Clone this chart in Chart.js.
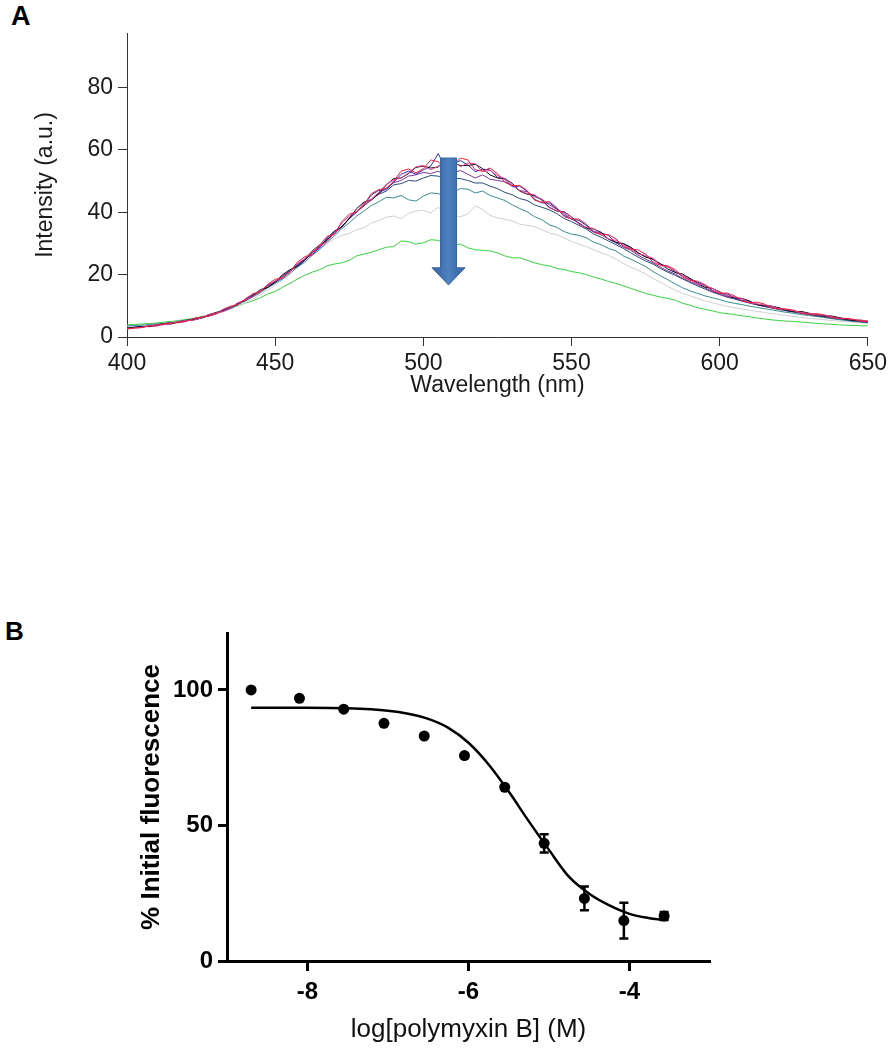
<!DOCTYPE html>
<html><head><meta charset="utf-8">
<script src="https://cdn.jsdelivr.net/npm/chart.js@4"></script>
<style>
body{margin:0;background:#fff;width:891px;height:1050px;overflow:hidden;position:relative;font-family:'Liberation Sans',Arial,sans-serif}
canvas{position:absolute;left:0}
#cA{top:0}
#cB{top:600px}
.lab{position:absolute;font-weight:bold;line-height:1;color:#000}
</style></head><body>
<div class="lab" style="left:11px;top:3px;font-size:27px">A</div>
<div class="lab" style="left:5px;top:618px;font-size:26px">B</div>
<canvas id="cA" width="891" height="420"></canvas>
<canvas id="cB" width="891" height="450"></canvas>
<script>
// ---------- Panel A data ----------
const wavelengths = [400,402.5,405,407.5,410,412.5,415,417.5,420,422.5,
  425,427.5,430,432.5,435,437.5,440,442.5,445,447.5,
  450,452.5,455,457.5,460,462.5,465,467.5,470,472.5,
  475,477.5,480,482.5,485,487.5,490,492.5,495,497.5,
  500,502.5,505,507.5,510,512.5,515,517.5,520,522.5,
  525,527.5,530,532.5,535,537.5,540,542.5,545,547.5,
  550,552.5,555,557.5,560,562.5,565,567.5,570,572.5,
  575,577.5,580,582.5,585,587.5,590,592.5,595,597.5,
  600,602.5,605,607.5,610,612.5,615,617.5,620,622.5,
  625,627.5,630,632.5,635,637.5,640,642.5,645,647.5,650];
const aXTicks = [400,450,500,550,600,650];
const aYTicks = [0,20,40,60,80];
const redSpec = [2.5,2.9,3.0,3.6,3.5,4.3,4.5,4.6,5.0,5.9,
  6.4,6.7,7.4,8.9,9.9,10.4,12.3,13.9,14.5,16.9,
  18.5,19.0,21.0,24.0,25.8,26.4,29.4,32.3,33.0,37.0,
  39.4,40.0,42.5,46.0,47.3,47.6,50.0,53.2,53.9,52.6,
  54.0,56.8,56.2,54.0,55.0,57.4,56.8,53.6,53.2,54.2,
  52.4,49.6,48.5,48.6,47.0,43.9,43.2,43.4,41.5,38.6,
  37.9,37.8,36.2,33.6,33.0,32.8,31.5,29.0,28.2,27.9,
  26.6,24.0,23.0,22.8,21.6,19.2,18.2,17.9,16.8,14.8,
  14.0,14.1,13.2,11.6,11.0,11.2,10.6,9.3,9.0,9.0,
  8.6,7.6,7.3,7.5,7.2,6.3,6.0,6.0,5.7,5.1,4.9];
const magentaSpec = [2.7,2.8,3.1,3.6,3.9,3.9,4.4,5.0,5.3,5.4,
  6.1,7.2,7.7,8.2,9.4,11.0,11.9,13.0,14.9,16.6,
  18.0,19.1,20.9,23.6,25.1,27.5,29.2,30.6,33.2,36.6,
  38.8,40.2,43.0,44.2,46.4,49.0,50.4,51.0,52.6,54.6,
  55.0,53.6,54.8,56.0,56.6,54.6,55.8,55.6,53.0,53.4,
  51.8,50.8,49.0,47.0,46.0,45.6,43.8,41.4,40.6,40.0,
  38.4,36.2,35.2,34.8,33.0,31.4,31.0,29.4,28.2,26.6,
  26.2,25.2,23.0,22.4,21.2,19.8,18.3,17.0,16.6,15.6,
  14.3,13.2,12.9,12.3,11.1,10.6,10.3,9.9,9.1,8.9,
  8.4,7.9,7.5,7.1,7.0,6.6,6.0,5.9,5.6,5.4,5.2];
const blackSpec = [2.9,3.1,3.3,3.4,3.9,4.2,4.2,4.9,5.4,5.5,
  6.0,7.1,7.9,8.3,9.3,10.9,11.7,13.3,15.2,15.9,
  17.5,20.0,21.6,22.6,24.6,27.6,29.5,31.0,33.8,35.4,
  38.0,41.2,43.3,44.0,46.0,48.8,50.8,51.0,52.4,54.4,
  54.8,54.2,54.5,56.4,55.9,55.0,55.0,55.4,54.0,52.0,
  51.0,50.8,49.3,46.8,45.8,45.4,43.9,41.6,40.4,40.2,
  38.5,36.4,35.0,34.6,33.6,31.4,30.4,30.0,28.8,27.0,
  25.6,25.0,23.5,21.8,20.7,20.2,18.8,17.2,16.0,15.6,
  14.5,13.2,12.5,12.4,11.6,10.4,10.0,9.9,9.4,8.5,
  8.1,8.2,7.7,7.0,6.7,6.8,6.3,5.7,5.3,5.4,5.1];
const blueSpec = [2.6,3.2,3.4,3.3,3.7,4.3,4.6,4.7,5.1,5.9,
  6.3,6.7,7.5,8.8,9.6,10.4,12.2,13.2,14.6,16.7,
  17.6,19.0,21.4,23.0,25.2,26.4,28.6,31.8,34.0,35.2,
  38.2,40.0,42.4,45.6,47.0,47.2,49.6,52.2,53.2,52.2,
  53.6,54.8,58.8,54.4,55.4,56.6,55.2,53.0,53.8,53.6,
  51.2,50.6,48.2,48.4,46.8,44.2,43.0,43.0,41.2,39.0,
  37.8,37.4,35.8,33.8,33.4,32.6,30.2,29.8,28.6,27.0,
  25.8,24.8,23.4,22.6,20.8,19.6,18.6,17.6,16.5,15.0,
  14.0,13.8,12.6,11.8,11.4,10.6,10.0,9.8,9.3,8.6,
  8.2,8.0,7.4,7.2,6.8,6.4,6.2,5.8,5.4,5.2,4.9];
const purpleSpec = [2.8,3.0,3.2,3.5,3.8,4.0,4.3,4.9,5.2,5.6,
  6.2,6.8,7.6,8.4,9.4,10.8,11.8,13.6,14.7,16.0,
  17.6,19.8,21.0,22.8,24.6,27.2,28.6,31.0,33.4,35.2,
  38.0,40.4,42.2,44.0,46.0,47.8,49.5,50.2,51.6,52.0,
  52.8,52.4,53.2,51.8,52.6,53.4,52.2,51.0,52.0,50.6,
  50.2,49.8,48.6,47.0,46.6,45.0,44.2,42.4,41.0,39.6,
  37.8,36.6,35.0,33.6,32.8,31.4,30.2,28.8,27.8,26.2,
  25.0,23.8,22.4,21.2,20.2,18.8,17.8,16.8,15.8,14.6,
  13.8,12.9,12.3,11.6,11.0,10.4,9.9,9.4,9.0,8.5,
  8.1,7.7,7.4,7.0,6.7,6.3,6.0,5.7,5.4,5.1,4.9];
const navySpec = [2.7,3.0,3.3,3.5,3.8,4.1,4.4,4.8,5.3,5.6,
  6.1,6.9,7.5,8.6,9.5,10.6,12.0,13.3,14.6,16.4,
  17.8,19.4,21.2,23.2,24.8,27.0,29.0,31.4,33.0,35.6,
  37.8,40.2,42.0,44.2,45.8,46.8,48.8,49.2,50.2,50.0,
  51.0,51.8,51.6,50.6,51.0,50.8,50.2,49.4,49.4,48.4,
  47.6,46.4,45.6,44.4,43.8,42.4,41.6,40.8,39.6,38.0,
  37.0,35.8,34.6,33.0,32.0,30.8,29.6,28.4,27.0,25.6,
  24.4,23.4,22.0,20.8,19.8,18.6,17.5,16.4,15.4,14.4,
  13.6,12.8,12.2,11.5,10.9,10.3,9.8,9.3,8.8,8.4,
  8.0,7.6,7.2,6.8,6.5,6.1,5.8,5.5,5.2,4.9,4.7];
const tealSpec = [3.6,3.7,3.8,4.0,4.2,4.4,4.6,5.0,5.3,5.8,
  6.2,6.8,7.5,8.4,9.2,10.4,11.6,12.8,14.2,15.8,
  17.2,18.6,20.4,22.4,24.0,26.2,28.0,30.4,32.4,34.8,
  36.6,38.8,40.4,42.2,43.4,44.8,44.6,45.4,44.0,43.6,
  45.2,46.2,46.0,45.0,46.4,47.6,47.4,46.2,46.8,45.4,
  44.6,43.8,42.4,41.2,40.2,38.6,37.6,36.0,35.2,33.8,
  33.0,32.6,31.8,30.4,29.6,28.4,27.6,26.0,25.0,23.8,
  22.6,21.0,19.6,18.4,17.0,15.8,14.8,14.0,13.2,12.6,
  12.0,11.3,10.8,10.4,9.9,9.5,9.1,8.7,8.3,7.9,
  7.6,7.2,6.9,6.6,6.3,5.9,5.6,5.3,5.0,4.8,4.5];
const graySpec = [3.4,3.5,3.7,3.8,4.0,4.3,4.5,4.8,5.2,5.6,
  6.0,6.6,7.2,8.0,8.9,9.9,11.0,12.2,13.6,15.0,
  16.6,18.4,20.2,22.4,24.4,26.6,28.4,30.0,31.4,32.6,
  33.2,34.4,35.0,36.6,37.4,38.4,38.8,38.0,39.6,40.4,
  40.6,39.8,41.6,39.8,38.8,38.6,39.4,42.0,41.0,39.0,
  38.2,37.8,37.2,36.2,35.8,35.4,34.4,33.4,32.8,31.8,
  30.6,29.8,29.0,28.0,27.0,26.2,25.0,23.6,22.4,21.4,
  20.2,18.8,17.6,16.2,15.0,14.0,13.2,12.4,11.6,11.0,
  10.4,9.9,9.4,9.0,8.6,8.2,7.9,7.5,7.2,6.9,
  6.6,6.3,6.0,5.8,5.6,5.3,5.1,4.9,4.8,4.6,4.5];
const greenSpec = [3.9,4.0,4.2,4.3,4.5,4.8,5.0,5.3,5.6,6.0,
  6.5,7.0,7.6,8.4,9.2,10.0,10.9,11.6,12.6,13.8,
  14.6,16.0,17.2,18.6,19.8,20.8,21.6,22.8,23.4,23.8,
  24.6,26.0,26.6,27.2,28.0,28.8,29.0,30.8,30.6,29.8,
  30.2,31.2,31.0,29.8,29.4,29.8,28.6,28.0,27.8,27.6,
  27.0,26.0,25.4,25.4,24.6,23.8,23.2,22.8,22.0,21.6,
  21.0,20.6,20.0,19.2,18.6,17.8,17.2,16.4,15.6,14.8,
  14.0,13.4,12.8,12.4,11.8,10.8,10.2,9.4,8.9,8.4,
  7.8,7.5,7.2,6.8,6.5,6.1,5.8,5.5,5.3,5.1,
  5.0,4.8,4.6,4.4,4.2,4.1,3.9,3.8,3.7,3.6,3.6];
// arrow annotation (data units)
const arrowX = 508.5, arrowTop = 57.4, arrowHeadStart = 22.2, arrowTip = 16.7;

// ---------- Panel B data ----------
const logDose = [-8.7,-8.1,-7.55,-7.05,-6.55,-6.05,-5.55,-5.06,-4.56,-4.07,-3.57];
const pctFluor = [100,96.9,92.9,87.7,83.0,75.8,64.1,43.4,23.1,14.9,16.6];
const pctErr = [0,0,0,0,0,0,0,3.4,4.4,6.6,1.5];
const fitX = [-8.7,-8.0,-7.5,-7.0,-6.75,-6.5,-6.25,-6.0,-5.75,-5.5,-5.25,-5.0,-4.75,-4.5,-4.25,-4.0,-3.75,-3.6];
const fitY = [93.4,93.4,93.2,92.3,91.2,89.3,86.0,80.5,72.5,62.5,51.5,41.0,31.0,24.8,20.5,17.4,15.8,15.2];
const bXTicks = [-8,-6,-4];
const bYTicks = [0,50,100];

const FAM = "'Liberation Sans', Arial, sans-serif";

const seriesA = [
  {name:'red', values:redSpec, color:'#f0203a'},
  {name:'magenta', values:magentaSpec, color:'#e8409a'},
  {name:'black', values:blackSpec, color:'#111111'},
  {name:'blue', values:blueSpec, color:'#2a2ec8'},
  {name:'purple', values:purpleSpec, color:'#7a3a9e'},
  {name:'navy', values:navySpec, color:'#2a4a78'},
  {name:'teal', values:tealSpec, color:'#3a8c8c'},
  {name:'gray', values:graySpec, color:'#cfcfd4'},
  {name:'green', values:greenSpec, color:'#3ad040'}
];

const arrowPlugin = {
  id:'arrow',
  afterDatasetsDraw(chart){
    const {ctx, scales:{x,y}} = chart;
    const cx = x.getPixelForValue(arrowX);
    const yt = y.getPixelForValue(arrowTop);
    const yh = y.getPixelForValue(arrowHeadStart);
    const yp = y.getPixelForValue(arrowTip);
    const sw = 8, hw = 16.5;
    ctx.save();
    const g = ctx.createLinearGradient(cx-sw,0,cx+sw,0);
    g.addColorStop(0,'#3f6fae'); g.addColorStop(0.5,'#4f82c2'); g.addColorStop(1,'#3f6fae');
    ctx.beginPath();
    ctx.moveTo(cx-sw,yt); ctx.lineTo(cx+sw,yt); ctx.lineTo(cx+sw,yh);
    ctx.lineTo(cx+hw,yh); ctx.lineTo(cx,yp); ctx.lineTo(cx-hw,yh);
    ctx.lineTo(cx-sw,yh); ctx.closePath();
    ctx.fillStyle = g; ctx.fill();
    ctx.strokeStyle = '#3a659c'; ctx.lineWidth = 1; ctx.stroke();
    ctx.restore();
  }
};

new Chart(document.getElementById('cA'), {
  type:'line',
  data:{datasets: seriesA.map(s=>({
    label:s.name,
    data: wavelengths.map((w,i)=>({x:w, y:s.values[i]})),
    borderColor:s.color, borderWidth:1, pointRadius:0, tension:0, fill:false
  }))},
  options:{
    responsive:false, animation:false, devicePixelRatio:1,
    layout:{padding:{left:0,right:21,top:33,bottom:0}},
    plugins:{legend:{display:false}, tooltip:{enabled:false}},
    scales:{
      x:{type:'linear', min:400, max:650,
        afterBuildTicks:s=>{s.ticks = aXTicks.map(v=>({value:v}));},
        afterFit:s=>{s.height = 83;},
        grid:{display:true, drawOnChartArea:false, drawTicks:true, tickLength:9, color:'#333', tickWidth:1},
        border:{display:true, color:'#333', width:1},
        ticks:{font:{family:FAM, size:23}, color:'#1a1a1a', padding:4, maxRotation:0, callback:v=>String(v)},
        title:{display:true, text:'Wavelength (nm)', font:{family:FAM, size:23}, color:'#1a1a1a', padding:{top:0, bottom:21}}
      },
      y:{type:'linear', min:0, max:97.5,
        afterBuildTicks:s=>{s.ticks = aYTicks.map(v=>({value:v}));},
        afterFit:s=>{s.width = 127;},
        grid:{display:true, drawOnChartArea:false, drawTicks:true, tickLength:9, color:'#333', tickWidth:1},
        border:{display:true, color:'#333', width:1},
        ticks:{font:{family:FAM, size:23}, color:'#1a1a1a', padding:5, callback:v=>String(v)},
        title:{display:true, text:'Intensity (a.u.)', font:{family:FAM, size:23}, color:'#1a1a1a', padding:{top:32, bottom:0}}
      }
    }
  },
  plugins:[arrowPlugin]
});

const errPlugin = {
  id:'errbars',
  afterDatasetsDraw(chart){
    const {ctx, scales:{x,y}} = chart;
    ctx.save();
    ctx.strokeStyle = '#000'; ctx.lineWidth = 2.5;
    logDose.forEach((d,i)=>{
      const e = pctErr[i]; if(!e) return;
      const px = x.getPixelForValue(d);
      const y1 = y.getPixelForValue(pctFluor[i]+e), y2 = y.getPixelForValue(pctFluor[i]-e);
      ctx.beginPath();
      ctx.moveTo(px,y1); ctx.lineTo(px,y2);
      ctx.moveTo(px-4.5,y1); ctx.lineTo(px+4.5,y1);
      ctx.moveTo(px-4.5,y2); ctx.lineTo(px+4.5,y2);
      ctx.stroke();
    });
    ctx.restore();
  }
};

new Chart(document.getElementById('cB'), {
  type:'scatter',
  data:{datasets:[
    {label:'data', data: logDose.map((d,i)=>({x:d, y:pctFluor[i]})), pointRadius:5.5, pointBackgroundColor:'#000', pointBorderColor:'#000', borderWidth:0, showLine:false},
    {label:'fit', type:'line', data: fitX.map((d,i)=>({x:d, y:fitY[i]})), borderColor:'#000', borderWidth:2.5, pointRadius:0, cubicInterpolationMode:'monotone', fill:false}
  ]},
  options:{
    responsive:false, animation:false, devicePixelRatio:1,
    layout:{padding:{left:0,right:181,top:33,bottom:0}},
    plugins:{legend:{display:false}, tooltip:{enabled:false}},
    scales:{
      x:{type:'linear', min:-9, max:-3,
        afterBuildTicks:s=>{s.ticks = bXTicks.map(v=>({value:v}));},
        afterFit:s=>{s.height = 89;},
        grid:{display:true, drawOnChartArea:false, drawTicks:true, tickLength:10, color:'#000', tickWidth:3},
        border:{display:true, color:'#000', width:3},
        ticks:{font:{family:FAM, size:24, weight:'bold'}, color:'#000', padding:7, maxRotation:0, callback:v=>String(v)},
        title:{display:true, text:'log[polymyxin B] (M)', font:{family:FAM, size:26}, color:'#111', padding:{top:0, bottom:5}}
      },
      y:{type:'linear', min:0, max:121,
        afterBuildTicks:s=>{s.ticks = bYTicks.map(v=>({value:v}));},
        afterFit:s=>{s.width = 227;},
        grid:{display:true, drawOnChartArea:false, drawTicks:true, tickLength:9, color:'#000', tickWidth:3},
        border:{display:true, color:'#000', width:3},
        ticks:{font:{family:FAM, size:24, weight:'bold'}, color:'#000', padding:5, callback:v=>String(v)},
        title:{display:true, text:'% Initial fluorescence', font:{family:FAM, size:26, weight:'bold'}, color:'#000', padding:{top:136, bottom:0}}
      }
    }
  },
  plugins:[errPlugin]
});
</script>
</body></html>
